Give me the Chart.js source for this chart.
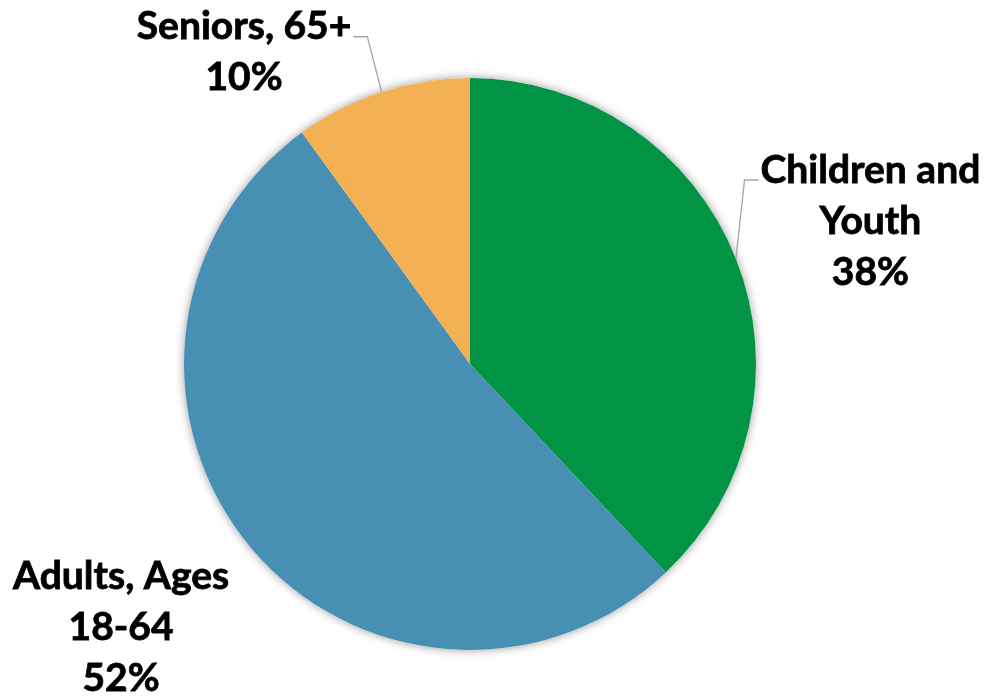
<!DOCTYPE html>
<html>
<head>
<meta charset="utf-8">
<title>Population by Age Group</title>
<script src="https://cdn.jsdelivr.net/npm/chart.js@4.4.1/dist/chart.umd.min.js"></script>
<style>
    html, body { margin: 0; padding: 0; background: #ffffff; }
    #wrap { width: 987px; height: 696px; position: relative; }
</style>
</head>
<body>
<div id="wrap"><canvas id="ageChart" width="987" height="696"></canvas></div>
<script>
// Data
const categories = ['Children and Youth', 'Adults, Ages 18-64', 'Seniors, 65+'];
const labelLines = [['Children and', 'Youth'], ['Adults, Ages', '18-64'], ['Seniors, 65+']];
const shares = [38, 52, 10];
const sliceColors = ['#009444', '#488FB4', '#F3B153'];

// Label placement, relative to the pie centre in units of radius
const labelSpots = [
    { dx: 1.40, dy: -0.50, leader: 'left' },
    { dx: -1.22, dy: 0.92, leader: null },
    { dx: -0.79, dy: -1.09, leader: 'right' }
];

// Soft shadow under the whole pie
const pieShadow = {
    id: 'pieShadow',
    beforeDatasetsDraw(chart) {
        const arc = chart.getDatasetMeta(0).data[0];
        if (!arc) return;
        const ctx = chart.ctx;
        ctx.save();
        ctx.shadowColor = 'rgba(0,0,0,0.4)';
        ctx.shadowBlur = 10;
        ctx.fillStyle = '#ffffff';
        ctx.beginPath();
        ctx.arc(arc.x, arc.y, arc.outerRadius, 0, Math.PI * 2);
        ctx.fill();
        ctx.restore();
    }
};

// Category + percent labels with elbow leader lines
const sliceLabels = {
    id: 'sliceLabels',
    afterDatasetsDraw(chart) {
        const ctx = chart.ctx;
        const meta = chart.getDatasetMeta(0);
        const fontSize = 39;
        const lineH = 51;
        ctx.save();
        ctx.font = 'bold ' + fontSize + 'px Lato, "Open Sans", sans-serif';
        ctx.fillStyle = '#000000';
        ctx.strokeStyle = '#000000';
        ctx.lineWidth = 0.8;
        ctx.textAlign = 'center';
        ctx.textBaseline = 'middle';

        meta.data.forEach((arc, i) => {
            const r = arc.outerRadius;
            const spot = labelSpots[i];
            const lines = labelLines[i].concat([shares[i] + '%']);
            const cx = arc.x + spot.dx * r;
            const top = arc.y + spot.dy * r - (lines.length - 1) * lineH / 2;

            // light stroke gives the heavier look of the label face
            lines.forEach((t, k) => {
                ctx.fillText(t, cx, top + k * lineH);
                ctx.strokeText(t, cx, top + k * lineH);
            });
        });

        meta.data.forEach((arc, i) => {
            const spot = labelSpots[i];
            if (!spot.leader) return;
            const r = arc.outerRadius;
            const cx = arc.x + spot.dx * r;
            const lines = labelLines[i].concat([shares[i] + '%']);
            const top = arc.y + spot.dy * r - (lines.length - 1) * lineH / 2;
            const mid = (arc.startAngle + arc.endAngle) / 2;
            const px = arc.x + Math.cos(mid) * r;
            const py = arc.y + Math.sin(mid) * r;
            const half = ctx.measureText(lines[0]).width / 2;
            const ly = top + 10;
            const edge = spot.leader === 'left' ? cx - half - 2 : cx + half + 2;
            const elbow = spot.leader === 'left' ? edge - 14 : edge + 14;

            ctx.strokeStyle = '#A6A6A6';
            ctx.lineWidth = 1.3;
            ctx.beginPath();
            ctx.moveTo(px, py);
            ctx.lineTo(elbow, ly);
            ctx.lineTo(edge, ly);
            ctx.stroke();
        });
        ctx.restore();
    }
};

new Chart(document.getElementById('ageChart'), {
    type: 'pie',
    data: {
        labels: categories,
        datasets: [{
            data: shares,
            backgroundColor: sliceColors,
            borderWidth: 0
        }]
    },
    options: {
        responsive: false,
        animation: false,
        layout: { padding: { top: 78, bottom: 46, left: 100, right: 147 } },
        plugins: {
            legend: { display: false },
            tooltip: { enabled: false }
        }
    },
    plugins: [pieShadow, sliceLabels]
});
</script>
</body>
</html>
